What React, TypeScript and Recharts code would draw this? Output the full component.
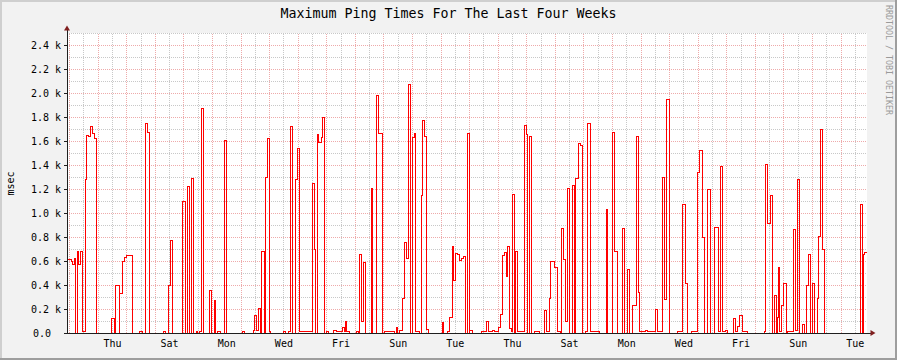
import React from 'react';
import { LineChart, Line, XAxis, YAxis, CartesianGrid, ReferenceLine } from 'recharts';

const TITLE = 'Maximum Ping Times For The Last Four Weeks';
const Y_LABEL = 'msec';
const WATERMARK = 'RRDTOOL / TOBI OETIKER';

// Day labels (centred on noon, every second day)
const dayLabels = ['Thu', 'Sat', 'Mon', 'Wed', 'Fri', 'Sun', 'Tue', 'Thu', 'Sat', 'Mon', 'Wed', 'Fri', 'Sun', 'Tue'];

// Time window (hours) and position of the first midnight inside it
const WINDOW_HOURS = 672;
const FIRST_MIDNIGHT_H = 2.2;

// Hours (from window start) where the max ping value changes
const stepHours = [
  0, 0.8, 3.6, 4.2, 5.9, 7.3, 8.4, 9.8, 11.5, 12.9, 15.4, 16.5, 18.2, 19.6, 21.3, 22.9, 24.4,
  37.0, 39.7, 40.6, 43.7, 44.5, 46.8, 48.5, 50.1, 51.8, 55.2, 61.3, 63.0, 65.8, 67.5, 69.1,
  81.2, 82.9, 85.1, 87.1, 88.8, 97.4, 99.4, 101.4, 103.1, 104.7, 106.4, 108.6, 110.0, 111.5, 112.8, 114.8,
  120.1, 121.5, 123.5, 124.9, 126.8, 129.1, 131.9, 134.1, 147.3, 148.7,
  156.5, 157.7, 159.3, 160.7, 162.7, 163.5, 165.5, 166.6, 168.3, 169.7, 171.1,
  181.7, 183.4, 186.2, 187.6, 189.8, 191.8, 193.5, 195.5,
  206.4, 208.1, 208.6, 210.3, 211.4, 213.4, 214.5, 216.5, 217.6, 219.8,
  223.7, 226.0, 231.0, 232.7, 233.8, 234.9, 237.1, 242.8, 245.0, 246.1, 247.2, 248.9, 250.6,
  255.4, 256.8, 260.1, 261.8, 264.6, 265.2, 266.9, 274.7, 276.4, 278.0, 279.7, 281.4, 283.1, 285.0, 286.7, 288.7,
  290.6, 292.1, 292.9, 296.5, 297.6, 298.8, 300.5, 302.1, 303.5,
  315.0, 316.1, 319.5, 321.7, 323.4, 324.8, 326.5, 327.9, 329.5, 331.2, 332.9, 334.6, 336.3, 337.7, 338.5, 340.8,
  348.0, 352.5, 354.2, 357.0, 358.7, 362.6, 364.3, 366.0, 367.3, 368.8, 370.4, 372.1, 373.2, 374.6, 376.1, 376.6, 378.6,
  383.9, 385.6, 387.0, 388.1, 390.3, 393.1, 396.7,
  401.3, 402.9, 404.9, 406.0, 409.1, 409.9, 411.9, 414.4, 415.5, 417.2, 418.6, 420.3, 422.5, 424.2, 426.1, 427.0, 429.8, 431.5, 433.2,
  435.4, 437.6, 439.9, 447.5, 452.8, 454.4, 458.4, 460.3, 462.3, 466.2, 468.5, 470.4, 472.1, 475.4, 478.0, 479.9, 480.7,
  485.8, 487.5, 494.5, 495.9, 500.4, 502.1, 503.7, 506.5, 512.7, 517.4, 519.4, 521.6, 524.7, 529.5, 531.5, 533.4, 535.7, 537.6, 540.7,
  544.3, 547.4, 549.1, 550.8, 553.0, 555.0, 559.7, 561.4, 563.6, 565.3, 567.3, 571.8,
  585.7, 586.6, 588.6, 591.1, 592.8, 593.9, 595.6, 596.7, 597.8, 598.9, 600.0, 601.7, 604.0, 605.6,
  610.1, 611.8, 613.5, 615.7, 617.4, 619.1, 620.8, 622.7, 624.7, 626.4, 628.1, 630.0, 631.1, 632.8, 634.5, 636.5,
  666.4, 667.8, 668.9, 669.7,
];

// Max ping (ms) holding from each step hour to the next
const pingMs = [
  190, 610, 600, 570, 620, 0, 680, 570, 680, 10, 1280, 1650, 1640, 1725, 1660, 1620, 0,
  117, 0, 394, 0, 328, 592, 628, 650, 644, 0, 10, 0, 1747, 1672, 0,
  10, 0, 392, 767, 0, 1092, 0, 1222, 0, 1289, 0, 10, 0, 10, 1875, 0,
  356, 0, 272, 0, 10, 0, 1608, 0, 10, 0,
  20, 142, 20, 206, 0, 683, 0, 1297, 1617, 10, 0,
  10, 0, 10, 1717, 0, 1281, 1539, 10,
  1250, 700, 0, 1658, 1589, 1630, 1797, 0, 10, 0,
  20, 10, 42, 10, 92, 10, 0, 10, 0, 656, 92, 589, 0,
  1208, 0, 1978, 1664, 1589, 0, 10, 0, 44, 0, 20, 289, 756, 622, 2067, 0,
  1633, 1660, 10, 0, 1150, 1767, 1639, 30, 0,
  86, 0, 10, 131, 722, 439, 661, 653, 603, 622, 635, 0, 1661, 0, 20, 0,
  10, 100, 10, 20, 10, 50, 158, 644, 672, 472, 717, 40, 10, 1158, 0, 678, 10,
  1728, 1656, 0, 1636, 0, 10, 0,
  189, 10, 289, 600, 578, 547, 10, 0, 867, 614, 100, 1206, 0, 1231, 0, 1289, 1583, 1564, 0,
  10, 1750, 10, 0, 1028, 0, 1669, 681, 0, 872, 0, 531, 0, 233, 1639, 339, 10,
  20, 10, 194, 10, 1300, 283, 1950, 0, 10, 1067, 411, 0, 10, 1336, 1517, 794, 0, 1194, 0,
  878, 10, 1386, 10, 20, 0, 117, 10, 58, 142, 10, 0,
  10, 1408, 914, 1150, 0, 311, 0, 128, 544, 10, 233, 411, 0, 10,
  861, 20, 1283, 0, 75, 0, 400, 656, 0, 411, 0, 289, 808, 1700, 700, 0,
  1075, 0, 656, 672,
];

const yTicks = [0, 200, 400, 600, 800, 1000, 1200, 1400, 1600, 1800, 2000, 2200, 2400];
const Y_MAX = 2500;

const data = stepHours
  .map((t, i) => ({ t, v: pingMs[i] }))
  .concat([{ t: WINDOW_HOURS, v: pingMs[pingMs.length - 1] }]);

const midnights: number[] = [];
const noons: number[] = [];
for (let h = FIRST_MIDNIGHT_H; h < WINDOW_HOURS; h += 24) midnights.push(h);
for (let h = FIRST_MIDNIGHT_H + 12; h < WINDOW_HOURS; h += 24) noons.push(h);
const labelHours = noons.filter((_, i) => i % 2 === 1);
const minorY: number[] = [];
for (let v = 100; v <= Y_MAX; v += 200) minorY.push(v);

const FONT = '"DejaVu Sans Mono", monospace';
const GRID_MINOR = '#c8c8c8';
const GRID_MAJOR = '#eeaaaa';

const CSS = `
.recharts-line-curve { shape-rendering: crispEdges; }
.recharts-reference-line-line { shape-rendering: crispEdges; }
.recharts-cartesian-axis-line, .recharts-cartesian-axis-tick-line { shape-rendering: crispEdges; }
`;

const XTick = (props: any) => {
  const { x, y, index } = props;
  return (
    <text x={x} y={y + 13.7} textAnchor="middle" fontFamily={FONT} fontSize={10} fill="#000">
      {dayLabels[index]}
    </text>
  );
};

const YTick = (props: any) => {
  const { x, y, payload } = props;
  const v = payload.value as number;
  const label = v === 0 ? '0.0' : `${(v / 1000).toFixed(1)} k`;
  return (
    <text x={v === 0 ? x - 10 : x} y={y} dy="0.355em" textAnchor="end" fontFamily={FONT} fontSize={10} fill="#000">
      {label}
    </text>
  );
};

export default function App() {
  return (
    <div style={{ position: 'absolute', left: 0, top: 0, width: 897, height: 360, background: '#f2f2f2' }}>
      <style>{CSS}</style>
      <LineChart width={897} height={360} data={data} margin={{ top: 33, right: 30, bottom: 0, left: 0 }}>
        <CartesianGrid horizontal={false} vertical={false} fill="#ffffff" />
        {minorY.map((v) => (
          <ReferenceLine key={`my${v}`} y={v} stroke={GRID_MINOR} strokeDasharray="1 1" />
        ))}
        {noons.map((h) => (
          <ReferenceLine key={`mx${h}`} x={h} stroke={GRID_MINOR} strokeDasharray="1 1" />
        ))}
        {yTicks.filter((v) => v > 0).map((v) => (
          <ReferenceLine key={`My${v}`} y={v} stroke={GRID_MAJOR} strokeDasharray="1 1" />
        ))}
        {midnights.map((h) => (
          <ReferenceLine key={`Mx${h}`} x={h} stroke={GRID_MAJOR} strokeDasharray="1 1" />
        ))}
        <XAxis
          dataKey="t"
          type="number"
          domain={[0, WINDOW_HOURS]}
          ticks={labelHours}
          interval={0}
          height={27}
          tickSize={0}
          tickMargin={0}
          tickLine={false}
          axisLine={{ stroke: '#1f1f1f' }}
          tick={<XTick />}
        />
        <YAxis
          type="number"
          domain={[0, Y_MAX]}
          ticks={yTicks}
          interval={0}
          width={67}
          tickSize={3}
          tickMargin={3}
          tickLine={{ stroke: '#1f1f1f' }}
          axisLine={{ stroke: '#1f1f1f' }}
          tick={<YTick />}
        />
        <Line
          dataKey="v"
          type="stepAfter"
          stroke="#ff0000"
          strokeWidth={1}
          dot={false}
          activeDot={false}
          isAnimationActive={false}
        />
      </LineChart>
      <svg width={897} height={360} style={{ position: 'absolute', left: 0, top: 0, pointerEvents: 'none' }}>
        <rect x={0} y={0} width={897} height={2} fill="#cfcfcf" />
        <rect x={0} y={0} width={2} height={360} fill="#cfcfcf" />
        <rect x={0} y={358} width={897} height={2} fill="#9e9e9e" />
        <rect x={895} y={0} width={2} height={360} fill="#9e9e9e" />
        <text x={448.5} y={18.3} textAnchor="middle" fontFamily={FONT} fontSize={13.3} fill="#000">
          {TITLE}
        </text>
        <text transform="translate(13.5,183.5) rotate(-90)" textAnchor="middle" fontFamily={FONT} fontSize={10} fill="#000">
          {Y_LABEL}
        </text>
        <text transform="translate(885.5,60) rotate(90)" textAnchor="middle" fontFamily={FONT} fontSize={8.3} fill="#9a9a9a">
          {WATERMARK}
        </text>
        <line x1={67} y1={29} x2={67} y2={33} stroke="#1f1f1f" shapeRendering="crispEdges" />
        <polygon points="67,25.5 64,30.5 70,30.5" fill="#801f1f" />
        <line x1={867} y1={333} x2={871} y2={333} stroke="#1f1f1f" shapeRendering="crispEdges" />
        <polygon points="875.5,333 870.5,330 870.5,336" fill="#801f1f" />
      </svg>
    </div>
  );
}
